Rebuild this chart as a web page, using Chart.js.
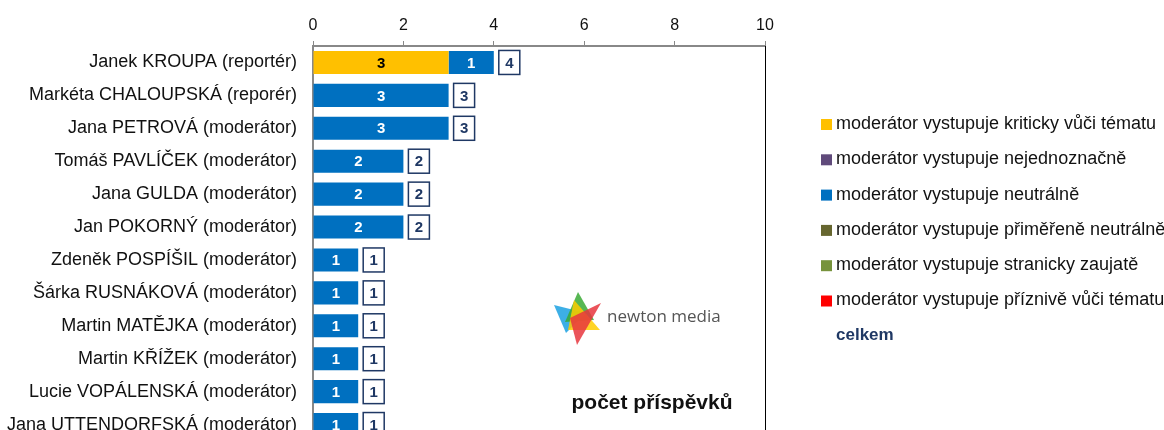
<!DOCTYPE html>
<html>
<head>
<meta charset="utf-8">
<script src="https://cdn.jsdelivr.net/npm/chart.js@4.4.0/dist/chart.umd.min.js"></script>
<style>
  html, body { margin: 0; padding: 0; background: #fff; overflow: hidden; }
  #wrap { width: 1164px; height: 430px; overflow: hidden; }
</style>
</head>
<body>
<div id="wrap"><canvas id="moderatorChart" width="1164" height="441"></canvas></div>
<script>
const people = [
    'Janek KROUPA (reportér)',
    'Markéta CHALOUPSKÁ (reporér)',
    'Jana PETROVÁ (moderátor)',
    'Tomáš PAVLÍČEK (moderátor)',
    'Jana GULDA (moderátor)',
    'Jan POKORNÝ (moderátor)',
    'Zdeněk POSPÍŠIL (moderátor)',
    'Šárka RUSNÁKOVÁ (moderátor)',
    'Martin MATĚJKA (moderátor)',
    'Martin KŘÍŽEK (moderátor)',
    'Lucie VOPÁLENSKÁ (moderátor)',
    'Jana UTTENDORFSKÁ (moderátor)'
];

const seriesNames = [
    'moderátor vystupuje kriticky vůči tématu',
    'moderátor vystupuje nejednoznačně',
    'moderátor vystupuje neutrálně',
    'moderátor vystupuje přiměřeně neutrálně',
    'moderátor vystupuje stranicky zaujatě',
    'moderátor vystupuje příznivě vůči tématu'
];
const totalLabel = 'celkem';

const kriticky     = [3, 0, 0, 0, 0, 0, 0, 0, 0, 0, 0, 0];
const nejednoznac  = [0, 0, 0, 0, 0, 0, 0, 0, 0, 0, 0, 0];
const neutralne    = [1, 3, 3, 2, 2, 2, 1, 1, 1, 1, 1, 1];
const primerene    = [0, 0, 0, 0, 0, 0, 0, 0, 0, 0, 0, 0];
const stranicky    = [0, 0, 0, 0, 0, 0, 0, 0, 0, 0, 0, 0];
const priznive     = [0, 0, 0, 0, 0, 0, 0, 0, 0, 0, 0, 0];

const xTicks = [0, 2, 4, 6, 8, 10];

const colors = ['#FFC000', '#604A7B', '#0070C0', '#66662F', '#77933C', '#FF0000'];
const labelColors = ['#000000', '#ffffff', '#ffffff', '#ffffff', '#ffffff', '#ffffff'];
const FONT = '"Liberation Sans", Arial, sans-serif';
const NAVY = '#1F3864';

const allSeries = [kriticky, nejednoznac, neutralne, primerene, stranicky, priznive];

// values inside bars + total boxes
const barLabels = {
    id: 'barLabels',
    afterDatasetsDraw(chart) {
        const ctx = chart.ctx;
        const xs = chart.scales.x, ys = chart.scales.y;
        ctx.save();
        ctx.textAlign = 'center';
        ctx.textBaseline = 'middle';
        ctx.font = 'bold 15px ' + FONT;
        chart.data.datasets.forEach((ds, di) => {
            chart.getDatasetMeta(di).data.forEach((bar, i) => {
                const v = ds.data[i];
                if (!v) return;
                ctx.fillStyle = labelColors[di];
                ctx.fillText(String(v), (bar.x + bar.base) / 2, bar.y + 1);
            });
        });
        people.forEach((p, i) => {
            const total = allSeries.reduce((s, arr) => s + arr[i], 0);
            const x = xs.getPixelForValue(total) + 5;
            const y = ys.getPixelForValue(i);
            ctx.fillStyle = '#fff';
            ctx.fillRect(x, y - 12, 21, 24);
            ctx.strokeStyle = NAVY;
            ctx.lineWidth = 1.5;
            ctx.strokeRect(x, y - 12, 21, 24);
            ctx.fillStyle = NAVY;
            ctx.fillText(String(total), x + 10.5, y + 1);
        });
        ctx.restore();
    }
};

// right border, legend, logo, axis caption
const decorations = {
    id: 'decorations',
    afterDraw(chart) {
        const ctx = chart.ctx;
        const a = chart.chartArea;
        ctx.save();
        ctx.strokeStyle = '#000';
        ctx.lineWidth = 1;
        ctx.beginPath();
        ctx.moveTo(a.right + 0.5, a.top);
        ctx.lineTo(a.right + 0.5, a.bottom);
        ctx.stroke();

        // legend
        ctx.font = '18px ' + FONT;
        ctx.textBaseline = 'middle';
        ctx.textAlign = 'left';
        seriesNames.forEach((name, i) => {
            const y = 124 + i * 35.3;
            ctx.fillStyle = colors[i];
            ctx.fillRect(821, y - 5, 11, 11);
            ctx.fillStyle = '#111';
            ctx.fillText(name, 836, y);
        });
        ctx.font = 'bold 17px ' + FONT;
        ctx.fillStyle = NAVY;
        ctx.fillText(totalLabel, 836, 124 + 6 * 35.3);

        // newton media logo
        const tri = (pts, c) => {
            ctx.fillStyle = c;
            ctx.beginPath();
            ctx.moveTo(pts[0], pts[1]);
            ctx.lineTo(pts[2], pts[3]);
            ctx.lineTo(pts[4], pts[5]);
            ctx.closePath();
            ctx.fill();
        };
        ctx.globalAlpha = 0.85;
        tri([554, 305, 586, 313, 566, 333], '#1BA1E2');
        tri([578, 292, 565, 322, 594, 320], '#3AAA35');
        tri([574, 300, 600, 330, 568, 330], '#FFCC00');
        tri([601, 303, 570, 318, 577, 345], '#E8363E');
        ctx.globalAlpha = 1;
        ctx.fillStyle = '#555';
        ctx.font = '17px "Open Sans", sans-serif';
        ctx.textBaseline = 'middle';
        ctx.fillText('newton media', 607, 317);

        ctx.font = 'bold 21px ' + FONT;
        ctx.fillStyle = '#111';
        ctx.textAlign = 'center';
        ctx.fillText('počet příspěvků', 652, 403);
        ctx.restore();
    }
};

new Chart(document.getElementById('moderatorChart'), {
    type: 'bar',
    data: {
        labels: people,
        datasets: allSeries.map((arr, i) => ({
            label: seriesNames[i],
            data: arr,
            backgroundColor: colors[i],
            borderWidth: 0,
            categoryPercentage: 1,
            barPercentage: 0.7
        }))
    },
    options: {
        indexAxis: 'y',
        responsive: false,
        animation: false,
        layout: { padding: { left: 0, right: 399, top: 0, bottom: 0 } },
        plugins: {
            legend: { display: false },
            tooltip: { enabled: false }
        },
        scales: {
            x: {
                position: 'top',
                stacked: true,
                min: 0,
                max: 10,
                afterBuildTicks: (s) => { s.ticks = xTicks.map(v => ({ value: v })); },
                afterFit: (s) => { s.height = 46; s.paddingLeft = 0; s.paddingRight = 0; },
                ticks: { color: '#111', font: { size: 16, family: FONT }, padding: 6 },
                grid: { drawOnChartArea: false, tickLength: 5, color: '#888', lineWidth: 1 },
                border: { color: '#888', width: 2 }
            },
            y: {
                stacked: true,
                afterFit: (s) => { s.width = 313; s.paddingTop = 0; s.paddingBottom = 0; },
                ticks: { color: '#111', font: { size: 18, family: FONT }, padding: 8 },
                grid: { display: false },
                border: { color: '#888', width: 2 }
            }
        }
    },
    plugins: [barLabels, decorations]
});
</script>
</body>
</html>
